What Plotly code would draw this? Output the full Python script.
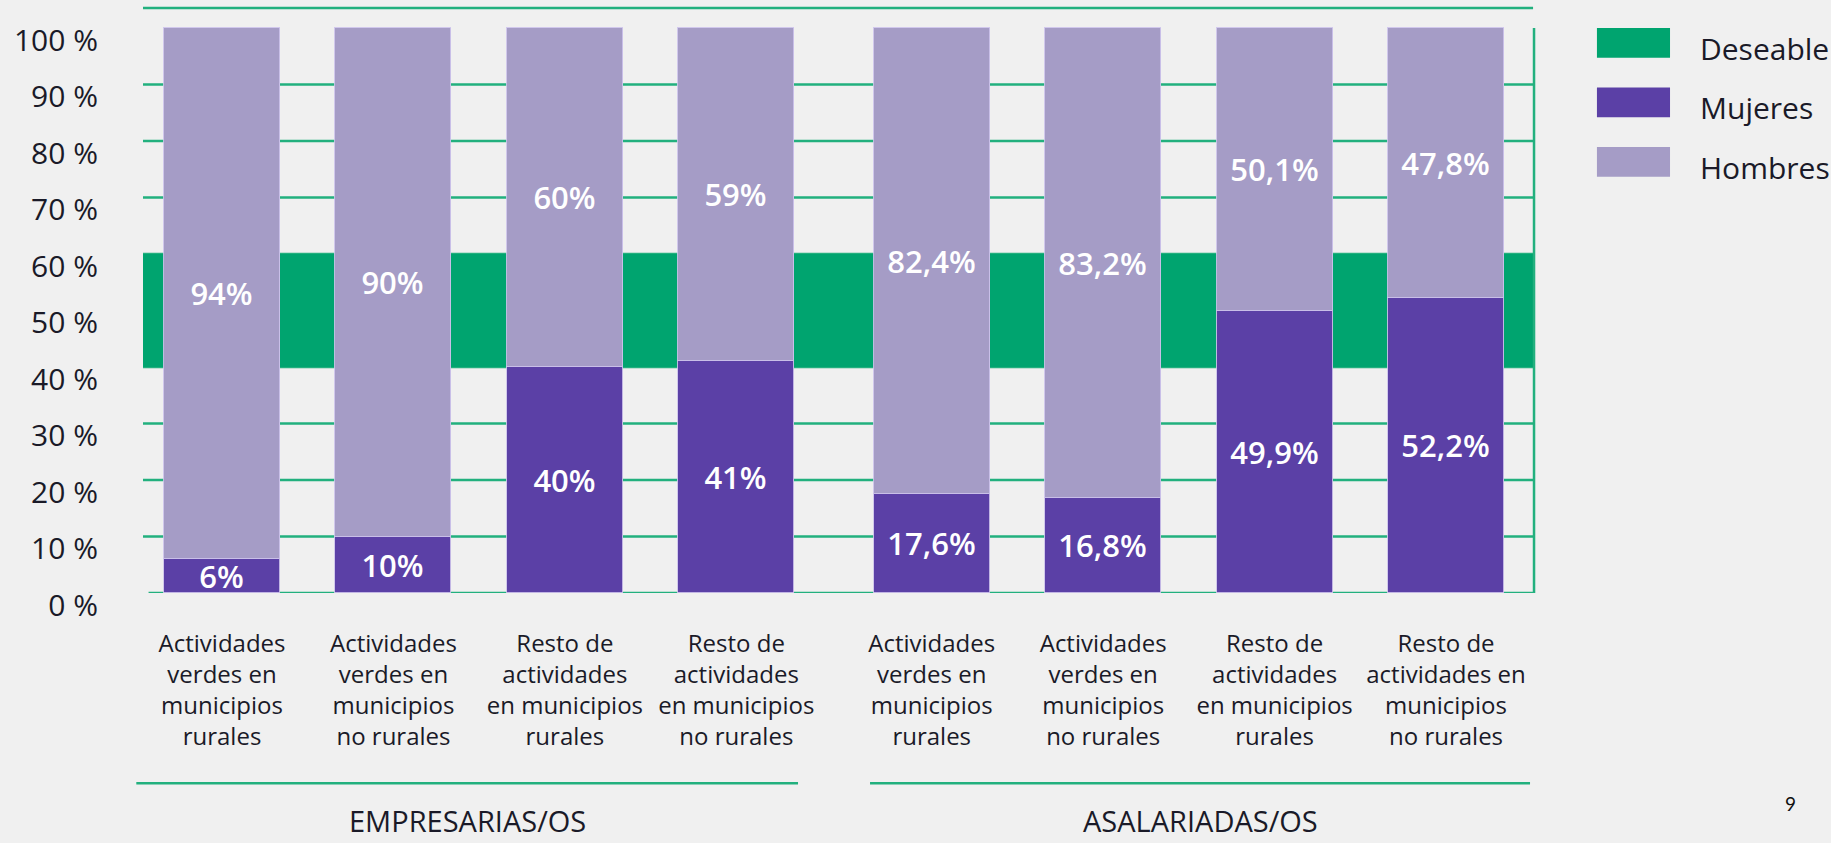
import plotly.graph_objects as go

# ---- data ----
categories = [
    "Actividades<br>verdes en<br>municipios<br>rurales",
    "Actividades<br>verdes en<br>municipios<br>no rurales",
    "Resto de<br>actividades<br>en municipios<br>rurales",
    "Resto de<br>actividades<br>en municipios<br>no rurales",
    "Actividades<br>verdes en<br>municipios<br>rurales",
    "Actividades<br>verdes en<br>municipios<br>no rurales",
    "Resto de<br>actividades<br>en municipios<br>rurales",
    "Resto de<br>actividades en<br>municipios<br>no rurales",
]
groups = ["EMPRESARIAS/OS", "ASALARIADAS/OS"]
mujeres = [6, 10, 40, 41, 17.6, 16.8, 49.9, 52.2]
hombres = [94, 90, 60, 59, 82.4, 83.2, 50.1, 47.8]
deseable_min = 40
deseable_max = 60
y_ticks = [0, 10, 20, 30, 40, 50, 60, 70, 80, 90, 100]
y_ticktext = [f"{v} %" for v in y_ticks]
page_number = "9"

# ---- style ----
C_GREEN = "#00A46F"
C_LINE = "#22B07E"
C_MUJ = "#5B40A6"
C_HOM = "#A59CC6"
C_BG = "#F0F0F0"
C_TXT = "#1A1A28"
FONT = "Open Sans"

PER_GROUP = 4
GROUP_GAP = 0.14
xpos = [i + (i // PER_GROUP) * GROUP_GAP for i in range(len(categories))]
X_RANGE = [-0.461, 7.659]


def to_paper(xd):
    return (xd - X_RANGE[0]) / (X_RANGE[1] - X_RANGE[0])


def fmt(v):
    return f"{v:g}".replace(".", ",") + "%"


fig = go.Figure()
for vals, name, col in [(mujeres, "Mujeres", C_MUJ), (hombres, "Hombres", C_HOM)]:
    fig.add_trace(go.Bar(
        x=xpos, y=vals, name=name, marker_color=col,
        marker_line=dict(width=1, color="rgba(205,195,235,0.9)"),
        text=[fmt(v) for v in vals], textposition="inside",
        insidetextanchor="middle", constraintext="none",
        textfont=dict(color="white", size=31, family=FONT, weight=600),
        width=0.677, showlegend=False,
    ))

shapes = []
# gridlines (0..90)
for v in y_ticks[:-1]:
    shapes.append(dict(type="line", xref="paper", yref="y",
                       x0=0.004 if v == 0 else 0, x1=1, y0=v, y1=v,
                       line=dict(color=C_LINE, width=2.5), layer="below"))
# desirable band
shapes.append(dict(type="rect", xref="paper", yref="y", x0=0, x1=1,
                   y0=deseable_min, y1=deseable_max, fillcolor=C_GREEN,
                   line=dict(width=0), layer="below"))
# top line and right frame
shapes.append(dict(type="line", xref="paper", yref="paper", x0=0, x1=0.9986,
                   y0=1, y1=1, line=dict(color=C_LINE, width=2.5)))
shapes.append(dict(type="line", xref="paper", yref="y", x0=0.9993, x1=0.9993,
                   y0=0, y1=100, line=dict(color=C_LINE, width=2.5)))

# group brackets
annotations = []
for g, name in enumerate(groups):
    first = xpos[g * PER_GROUP]
    last = xpos[g * PER_GROUP + PER_GROUP - 1]
    x0 = first - 0.50 if g == 0 else first - 0.36
    x1 = last + 0.36 if g == 0 else last + 0.49
    p0, p1 = to_paper(x0), to_paper(x1)
    shapes.append(dict(type="line", xref="paper", yref="paper", x0=p0, x1=p1,
                       y0=-0.325, y1=-0.325, line=dict(color=C_LINE, width=2.5)))
    annotations.append(dict(x=(p0 + p1) / 2, y=-0.389, xref="paper", yref="paper",
                            text=name, showarrow=False,
                            font=dict(size=29, color=C_TXT, family=FONT),
                            xanchor="center", yanchor="middle"))

# legend
legend_items = [("Deseable", C_GREEN), ("Mujeres", C_MUJ), ("Hombres", C_HOM)]
for i, (lab, col) in enumerate(legend_items):
    ytop = 0.966 - i * 0.1018
    shapes.append(dict(type="rect", xref="paper", yref="paper",
                       x0=1.0445, x1=1.097, y0=ytop - 0.051, y1=ytop,
                       fillcolor=col, line=dict(width=0)))
    annotations.append(dict(x=1.117, y=ytop - 0.0255 - 0.009, xref="paper",
                            yref="paper", text=lab, showarrow=False,
                            xanchor="left", yanchor="middle",
                            font=dict(size=30, color=C_TXT, family=FONT)))

annotations.append(dict(x=1.1839, y=-0.359, xref="paper", yref="paper",
                        text=page_number, showarrow=False,
                        font=dict(size=19, color="#111111", family="Lato"),
                        xanchor="center", yanchor="middle"))

fig.update_layout(
    width=1831, height=843,
    margin=dict(l=143, r=296, t=8, b=250),
    paper_bgcolor=C_BG, plot_bgcolor=C_BG,
    barmode="stack", bargap=0,
    shapes=shapes, annotations=annotations,
    showlegend=False,
    uniformtext=dict(minsize=31, mode="show"),
    font=dict(family=FONT, color=C_TXT),
)
fig.update_xaxes(
    range=X_RANGE, tickvals=xpos, ticktext=categories,
    showgrid=False, zeroline=False, showline=False,
    ticks="outside", ticklen=0, ticklabelstandoff=29,
    tickfont=dict(size=24, color=C_TXT, family=FONT),
)
fig.update_yaxes(
    range=[0, 103.54], tickvals=y_ticks, ticktext=y_ticktext,
    showgrid=False, zeroline=False, showline=False,
    ticks="outside", ticklen=0, ticklabelstandoff=38, ticklabelshift=12,
    ticklabeloverflow="allow",
    tickfont=dict(size=30, color=C_TXT, family=FONT),
)

fig.write_html(
    "out.html",
    config={"displayModeBar": False},
    post_script="document.body.style.margin='0';document.body.style.background='#F0F0F0';",
)
